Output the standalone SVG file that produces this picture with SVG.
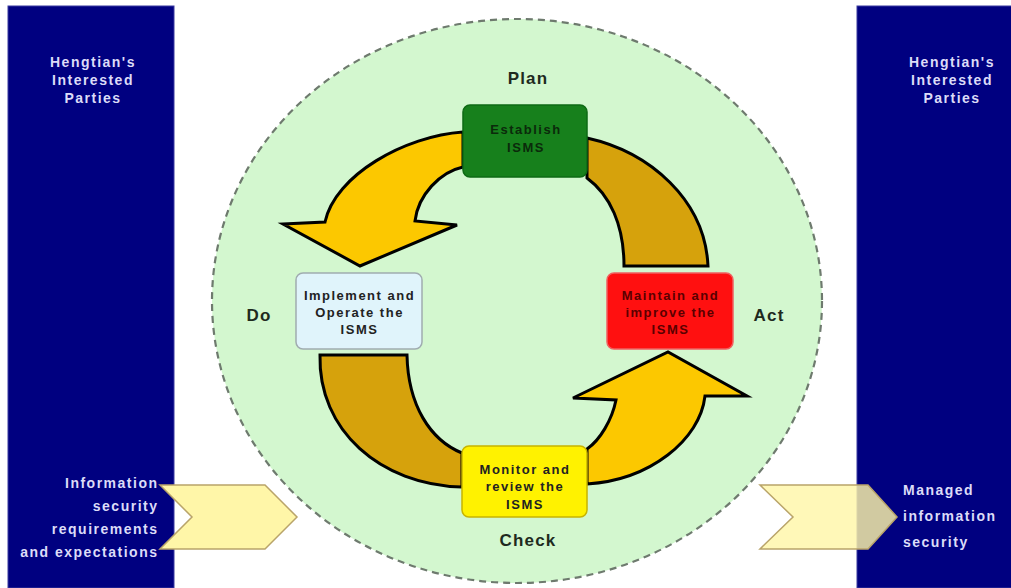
<svg xmlns="http://www.w3.org/2000/svg" width="1011" height="588" viewBox="0 0 1011 588">
<style>
.panel{fill:#000080;stroke:#3a3aa0;stroke-width:1}
.pt{font-family:"Liberation Sans",Arial,sans-serif;font-weight:bold;font-size:14px;letter-spacing:1.5px;fill:#dcdcf8}
.lbl{font-family:"Liberation Sans",Arial,sans-serif;font-weight:bold;font-size:17px;letter-spacing:1.2px;fill:#1e2a1e;text-anchor:middle}
.nt{font-family:"Liberation Sans",Arial,sans-serif;font-weight:bold;font-size:13px;letter-spacing:1.5px;text-anchor:middle}
.arrY{fill:#fcc800;stroke:#000;stroke-width:3;stroke-linejoin:miter}
.arrD{fill:#d6a20c;stroke:#000;stroke-width:3;stroke-linejoin:miter}
.chev{fill:#fff6a8;stroke:#b9a46a;stroke-width:1.5}
</style>
<rect width="1011" height="588" fill="#ffffff"/>
<g id="left-panel">
<rect class="panel" x="8" y="6" width="166" height="582"/>
<text class="pt" text-anchor="middle" x="93" y="67">Hengtian's</text>
<text class="pt" text-anchor="middle" x="93" y="85">Interested</text>
<text class="pt" text-anchor="middle" x="93" y="103">Parties</text>
</g>
<g id="right-panel">
<rect class="panel" x="857" y="6" width="160" height="582"/>
<text class="pt" text-anchor="middle" x="952" y="67">Hengtian's</text>
<text class="pt" text-anchor="middle" x="952" y="85">Interested</text>
<text class="pt" text-anchor="middle" x="952" y="103">Parties</text>
</g>
<g id="cycle-circle">
<ellipse cx="517" cy="301" rx="305" ry="282" fill="#d3f7cf" stroke="#6e7a6e" stroke-width="2.2" stroke-dasharray="7 5"/>
</g>
<g id="connectors">
<path class="arrY" d="M463,132 C405,136 335,175 325,222 L283,224 L360,266 L457,225 L415,221 C418,195 440,172 463,167 Z"/>
<path class="arrD" d="M587,138 C650,152 705,200 708,266 L624,266 C624,225 610,195 587,178 Z"/>
<path class="arrD" d="M320,355 C318,430 380,485 462,487 L462,453 C430,440 408,405 407,355 Z"/>
<path class="arrY" d="M587,484 C650,480 700,440 705,396 L747,396 L668,352 L573,398 L616,400 C612,420 600,440 587,449 Z"/>
</g>
<g id="input-chevron">
<polygon class="chev" points="160,485 265,485 297,517 265,549 160,549 192,517"/>
<text class="pt" text-anchor="end" x="158.5" y="488">Information</text>
<text class="pt" text-anchor="end" x="158.5" y="511">security</text>
<text class="pt" text-anchor="end" x="158.5" y="534">requirements</text>
<text class="pt" text-anchor="end" x="158.5" y="557">and expectations</text>
</g>
<g id="output-chevron">
<polygon class="chev" fill-opacity="0.82" points="760,485 868,485 897,517 868,549 760,549 793,517"/>
<text class="pt" x="903" y="495">Managed</text>
<text class="pt" x="903" y="521">information</text>
<text class="pt" x="903" y="547">security</text>
</g>
<g id="establish">
<rect x="463" y="105" width="124" height="72" rx="7" fill="#17801c" stroke="#0e6a14" stroke-width="1.5"/>
<text class="nt" fill="#0b2a0b" x="526" y="134">Establish</text>
<text class="nt" fill="#0b2a0b" x="526" y="152">ISMS</text>
</g>
<g id="implement">
<rect x="296" y="273" width="126" height="76" rx="7" fill="#e0f4fb" stroke="#a0acb0" stroke-width="1.5"/>
<text class="nt" fill="#222" x="359.5" y="300">Implement and</text>
<text class="nt" fill="#222" x="359.5" y="317">Operate the</text>
<text class="nt" fill="#222" x="359.5" y="334">ISMS</text>
</g>
<g id="maintain">
<rect x="607" y="273" width="126" height="76" rx="7" fill="#ff1010" stroke="#f06060" stroke-width="1.5"/>
<text class="nt" fill="#5a0000" x="670.5" y="300">Maintain and</text>
<text class="nt" fill="#5a0000" x="670.5" y="317">improve the</text>
<text class="nt" fill="#5a0000" x="670.5" y="334">ISMS</text>
</g>
<g id="monitor">
<rect x="462" y="446" width="125" height="71" rx="7" fill="#fff200" stroke="#c8b400" stroke-width="1.5"/>
<text class="nt" fill="#222" x="525" y="474">Monitor and</text>
<text class="nt" fill="#222" x="525" y="491">review the</text>
<text class="nt" fill="#222" x="525" y="509">ISMS</text>
</g>
<g id="phase-labels">
<text class="lbl" x="528" y="84">Plan</text>
<text class="lbl" x="259" y="321">Do</text>
<text class="lbl" x="769" y="321">Act</text>
<text class="lbl" x="528" y="546">Check</text>
</g>
</svg>
